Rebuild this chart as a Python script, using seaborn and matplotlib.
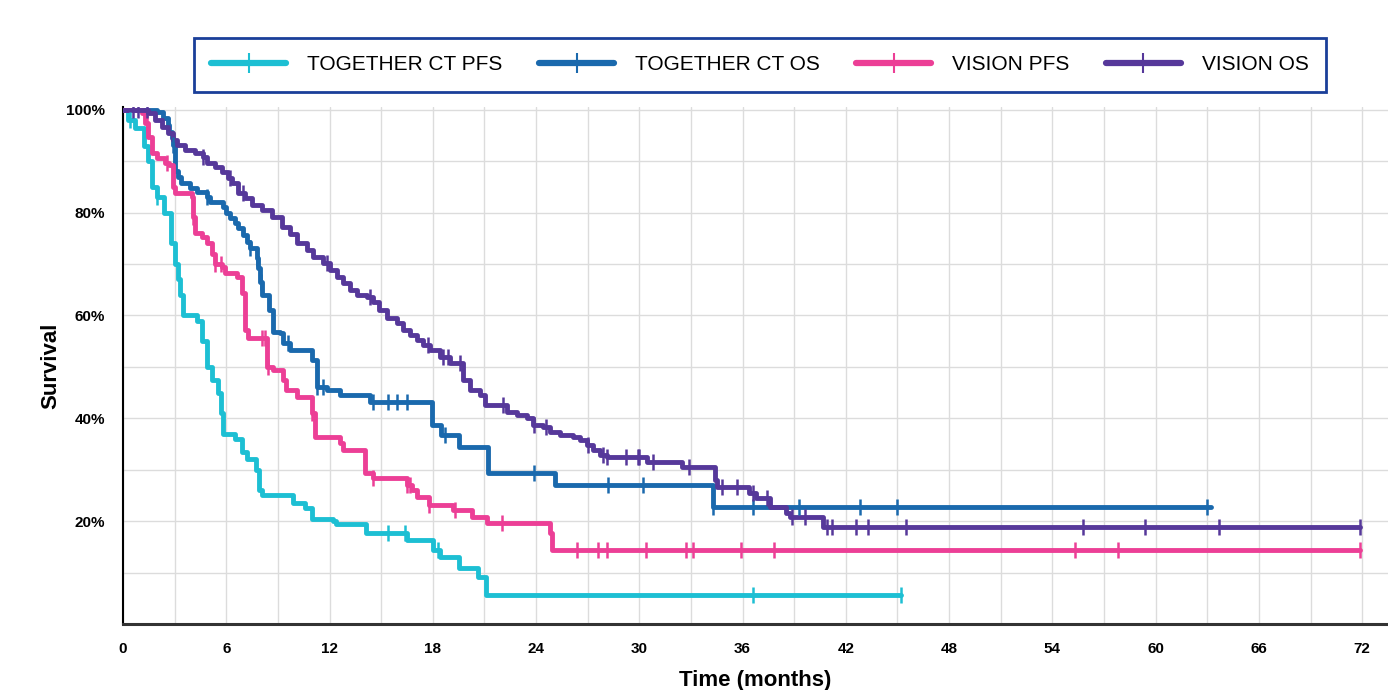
import numpy as np
import pandas as pd
import matplotlib
matplotlib.use("Agg")
import matplotlib.pyplot as plt
from matplotlib.lines import Line2D
from matplotlib.ticker import MultipleLocator, FuncFormatter
import seaborn as sns

# Kaplan-Meier step points (months, survival %)
ct_pfs_t = [0, 0.3, 0.7, 1.2, 1.45, 1.7, 2.0, 2.4, 2.8, 3.0, 3.2, 3.3, 3.5, 4.3, 4.6, 4.9, 5.2,
            5.5, 5.7, 5.8, 6.5, 6.9, 7.2, 7.7, 7.9, 8.1, 9.9, 10.6, 11.0, 12.2, 12.4, 14.1,
            16.5, 18.0, 18.4, 19.5, 20.6, 21.1, 45.2]
ct_pfs_s = [100, 98, 96.5, 93, 90, 85, 83, 80, 74, 70, 67, 64, 60, 59, 55, 50, 47.5,
            45, 41, 37, 36, 33.5, 32, 30, 26, 25, 23.5, 22.5, 20.5, 20, 19.5, 17.6,
            16.3, 14.4, 13, 10.9, 9.1, 5.6, 5.6]
ct_pfs_cens = [0.4, 2.0, 15.4, 16.4, 18.3, 36.6, 45.2]

ct_os_t = [0, 2.0, 2.3, 2.6, 2.7, 2.85, 2.9, 3.0, 3.2, 3.4, 3.9, 4.3, 4.9, 5.05, 5.8, 6.0, 6.2,
           6.5, 6.7, 7.0, 7.2, 7.4, 7.8, 7.85, 7.96, 8.1, 8.5, 8.7, 9.1, 9.3, 9.7, 11.0, 11.3,
           11.85, 12.6, 14.35, 17.95, 18.5, 19.5, 21.2, 25.1, 34.3, 63.2]
ct_os_s = [100, 99.6, 98.4, 97, 95.7, 94.5, 93.2, 88, 87, 85.8, 84.8, 84, 83, 82, 81, 80, 79,
           78, 77, 75.7, 74.3, 73.2, 71.2, 69.3, 66.5, 64, 61, 56.8, 56.6, 54.7, 53.3, 51.4, 46.1,
           45.5, 44.6, 43.2, 38.7, 36.8, 34.4, 29.4, 27, 22.8, 22.8]
ct_os_cens = [2.9, 4.9, 7.4, 7.8, 8.0, 9.6, 11.3, 11.6, 14.5, 15.4, 15.9, 16.5, 18.7, 23.9,
              28.2, 30.2, 34.3, 36.6, 39.3, 42.8, 45.0, 63.0]

vis_pfs_t = [0, 1.1, 1.28, 1.45, 1.7, 2.0, 2.45, 2.7, 2.9, 3.0, 4.0, 4.07, 4.18, 4.6, 4.9, 5.2,
             5.35, 5.75, 5.9, 6.6, 6.9, 7.1, 7.26, 8.37, 8.7, 9.3, 9.5, 10.1, 11.0, 11.15, 12.6,
             12.8, 14.06, 14.5, 16.5, 16.8, 17.1, 17.8, 19.2, 20.3, 21.15, 24.8, 24.9, 71.9]
vis_pfs_s = [100, 99.4, 97.5, 94.7, 91.6, 90.7, 89.7, 89.3, 85, 83.9, 83, 79.2, 76, 75.3, 74, 72,
             70, 69.5, 68.3, 67.5, 64.4, 57.2, 55.6, 50, 49.4, 47.5, 45.5, 44.2, 41, 36.4, 35.2,
             33.9, 29.4, 28.4, 27, 26, 24.7, 23.2, 22.2, 20.8, 19.6, 17.7, 14.4, 14.4]
vis_pfs_cens = [1.4, 2.55, 4.07, 5.35, 5.7, 8.1, 8.25, 8.45, 11.0, 14.5, 16.5, 16.7, 17.8, 19.3,
                22.0, 26.4, 27.6, 28.1, 30.4, 32.7, 33.1, 35.9, 37.8, 55.3, 57.8, 71.9]

vis_os_t = [0, 1.45, 1.86, 2.27, 2.6, 2.9, 3.14, 3.6, 4.18, 4.65, 4.9, 5.35, 5.75, 6.1, 6.33, 6.7,
            7.1, 7.5, 8.1, 8.66, 9.24, 9.7, 10.1, 10.7, 11.04, 11.6, 12.0, 12.43, 12.78, 13.2,
            13.6, 14.2, 14.5, 14.9, 15.34, 15.9, 16.27, 16.68, 17.08, 17.43, 17.84, 18.42, 19.0,
            19.76, 20.16, 20.74, 21.03, 22.3, 22.9, 23.47, 23.82, 24.4, 24.8, 25.4, 26.15, 26.55,
            26.96, 27.3, 27.7, 28.1, 30.45, 32.5, 34.4, 34.5, 36.4, 36.8, 37.6, 38.5, 38.75,
            40.7, 71.9]
vis_os_s = [100, 99.4, 98, 96.7, 95.5, 94.2, 93.2, 92.2, 91.6, 90.9, 89.7, 88.9, 87.9, 86.8, 85.8,
            83.9, 82.9, 81.5, 80.5, 79.2, 77.2, 75.9, 74.1, 72.8, 71.4, 70.2, 68.9, 67.5, 66.3,
            65, 64, 63.6, 62.6, 61.1, 59.5, 58.6, 57.2, 56.2, 55.3, 54.3, 53.3, 51.9, 50.8, 47.5,
            45.5, 44.6, 42.6, 41.2, 40.7, 40.1, 38.7, 38.3, 37.4, 36.8, 36.4, 35.8, 34.8, 33.9,
            32.9, 32.5, 31.5, 30.5, 28.0, 26.6, 25.5, 24.5, 22.8, 21.6, 20.8, 18.9, 18.9]
vis_os_cens = [0.6, 0.9, 1.4, 4.65, 6.2, 7.0, 11.85, 14.35, 17.7, 18.6, 18.9, 19.6, 22.1, 23.9,
               24.6, 27.0, 27.9, 28.1, 29.2, 29.9, 30.0, 30.8, 32.9, 34.8, 35.7, 36.6, 37.4,
               38.9, 39.6, 40.9, 41.2, 42.6, 43.3, 45.5, 55.8, 59.4, 63.7, 71.9]

names = ["TOGETHER CT PFS", "TOGETHER CT OS", "VISION PFS", "VISION OS"]
colors = ["#1DBFD3", "#1A69AD", "#EC3F96", "#56389A"]
curves = [(ct_pfs_t, ct_pfs_s, ct_pfs_cens), (ct_os_t, ct_os_s, ct_os_cens),
          (vis_pfs_t, vis_pfs_s, vis_pfs_cens), (vis_os_t, vis_os_s, vis_os_cens)]

rows = []
cens_rows = []
for name, (t, s, c) in zip(names, curves):
    t = np.array(t)
    s = np.array(s)
    for ti, si in zip(t, s):
        rows.append((name, ti, si))
    idx = np.searchsorted(t, np.array(c), side="right") - 1
    for ci, si in zip(c, s[idx]):
        cens_rows.append((name, ci, si))
df = pd.DataFrame(rows, columns=["curve", "time", "surv"])
cens = pd.DataFrame(cens_rows, columns=["curve", "time", "surv"])

sns.set_style("white")
plt.rcParams["font.family"] = ["Liberation Sans", "DejaVu Sans"]
plt.rcParams["text.color"] = "black"
plt.rcParams["axes.labelcolor"] = "black"
plt.rcParams["xtick.color"] = "black"
plt.rcParams["ytick.color"] = "black"

fig = plt.figure(figsize=(13.88, 6.90), dpi=100)
ax = fig.add_axes([0.0886, 0.0957, 0.9114, 0.749])

palette = dict(zip(names, colors))
sns.lineplot(data=df, x="time", y="surv", hue="curve", palette=palette,
             drawstyle="steps-post", linewidth=3.5, estimator=None, legend=False, ax=ax, zorder=3)
for name in names:
    sub = cens[cens.curve == name]
    ax.plot(sub.time, sub.surv, linestyle="none", marker="|", markersize=11,
            markeredgewidth=1.8, color=palette[name], zorder=4)

ax.set_xlim(0, 73.5)
ax.set_ylim(0, 100.5)
ax.xaxis.set_major_locator(MultipleLocator(6))
ax.xaxis.set_minor_locator(MultipleLocator(3))
ax.yaxis.set_major_locator(MultipleLocator(20))
ax.yaxis.set_minor_locator(MultipleLocator(10))
ax.yaxis.set_major_formatter(FuncFormatter(lambda v, p: "" if v == 0 else f"{int(v)}%"))
ax.grid(which="both", color="#dcdcdc", linewidth=1)
ax.tick_params(which="both", length=0)
ax.tick_params(axis="x", pad=13, labelsize=11)
ax.tick_params(axis="y", pad=13, labelsize=11)
for lab in ax.get_xticklabels() + ax.get_yticklabels():
    lab.set_fontweight("bold")

for side in ["top", "right"]:
    ax.spines[side].set_visible(False)
ax.spines["left"].set_color("black")
ax.spines["left"].set_linewidth(1.5)
ax.spines["bottom"].set_color("#333333")
ax.spines["bottom"].set_linewidth(2.2)

ax.set_xlabel("Time (months)", fontsize=16, fontweight="bold", labelpad=10)
ax.set_ylabel("Survival", fontsize=16, fontweight="bold", labelpad=3)

handles = [Line2D([0], [0], color=c, linewidth=4.5, marker="|", markersize=14,
                  markeredgewidth=1.5) for c in colors]
leg = fig.legend(handles, names, loc="center", bbox_to_anchor=(0.5476, 0.906), ncol=4,
                 fontsize=15, frameon=True, fancybox=False, framealpha=1, handlelength=3.6,
                 columnspacing=1.75, handletextpad=1.0, borderpad=0.85)
leg.get_frame().set_edgecolor("#1A3F99")
leg.get_frame().set_linewidth(2)

fig.savefig("out.png", dpi=100)
